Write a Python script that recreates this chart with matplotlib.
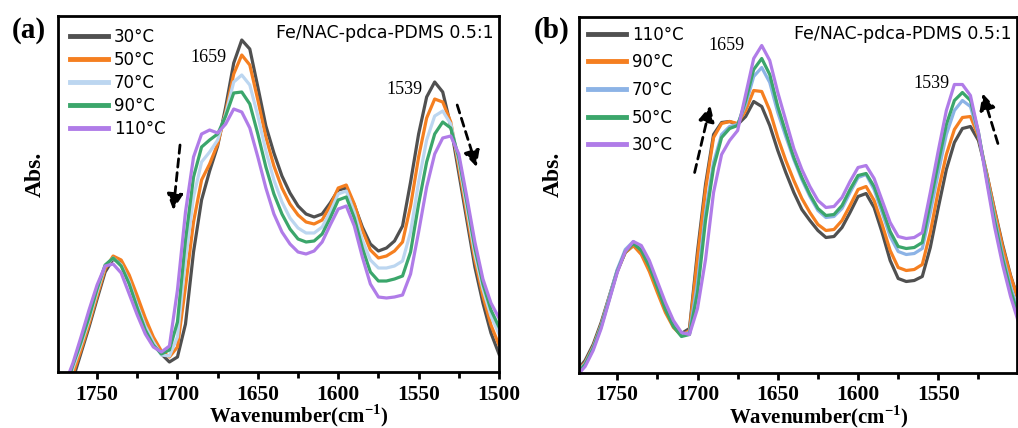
import matplotlib
matplotlib.use("Agg")
import matplotlib.pyplot as plt
from matplotlib.ticker import MultipleLocator

plt.rcParams['mathtext.fontset'] = 'custom'
plt.rcParams['mathtext.rm'] = 'Liberation Serif'
plt.rcParams['mathtext.bf'] = 'Liberation Serif:bold'

# FTIR spectra, wavenumber in cm-1, absorbance in arbitrary units
wavenumber = [1775, 1770, 1765, 1760, 1755, 1750, 1745, 1740, 1735, 1730,
              1725, 1720, 1715, 1710, 1705, 1700, 1695, 1690, 1685, 1680,
              1675, 1670, 1665, 1660, 1655, 1650, 1645, 1640, 1635, 1630,
              1625, 1620, 1615, 1610, 1605, 1600, 1595, 1590, 1585, 1580,
              1575, 1570, 1565, 1560, 1555, 1550, 1545, 1540, 1535, 1530,
              1525, 1520, 1515, 1510, 1505, 1500]

# (a) heating
a_30 = [-55, -32, -7, 19, 45, 73, 100, 113, 109, 93,
        72, 51, 32, 18, 10, 15, 48, 120, 172, 201,
        226, 265, 309, 332, 323, 285, 246, 219, 196, 179,
        166, 158, 155, 158, 169, 182, 184, 167, 145, 128,
        121, 124, 131, 146, 190, 238, 275, 290, 280, 246,
        199, 152, 105, 69, 39, 18]
a_50 = [-52, -28, -2, 22, 48, 76, 103, 116, 112, 97,
        76, 54, 35, 21, 15, 25, 85, 150, 192, 208,
        228, 260, 298, 317, 307, 272, 235, 206, 184, 168,
        157, 150, 148, 152, 166, 184, 187, 168, 142, 122,
        114, 116, 121, 130, 166, 215, 254, 273, 270, 250,
        205, 158, 112, 76, 47, 27]
a_70 = [-47, -22, 4, 27, 52, 80, 106, 114, 107, 90,
        67, 46, 30, 17, 16, 35, 112, 175, 210, 220,
        232, 258, 290, 297, 287, 256, 221, 192, 170, 154,
        144, 139, 139, 145, 160, 178, 181, 160, 132, 112,
        104, 104, 106, 111, 140, 190, 232, 256, 261, 248,
        210, 164, 118, 83, 56, 38]
a_90 = [-43, -18, 7, 30, 55, 83, 107, 114, 106, 88,
        64, 42, 27, 18, 22, 50, 132, 195, 225, 232,
        238, 256, 279, 280, 268, 238, 205, 178, 158, 143,
        133, 130, 131, 138, 154, 172, 175, 154, 124, 100,
        91, 91, 93, 96, 120, 168, 210, 238, 250, 244,
        214, 170, 124, 88, 62, 45]
a_110 = [-37, -12, 9, 35, 62, 87, 106, 108, 99, 78,
         57, 38, 25, 20, 26, 82, 160, 215, 238, 242,
         239, 248, 263, 260, 244, 215, 184, 158, 140, 128,
         120, 118, 121, 130, 147, 163, 166, 146, 115, 88,
         75, 74, 75, 77, 98, 140, 185, 218, 234, 236,
         218, 175, 130, 93, 69, 54]

# (b) cooling
b_110 = [2, 12, 28, 50, 76, 102, 120, 127, 120, 104,
         83, 64, 48, 39, 44, 121, 188, 238, 250, 251,
         248, 256, 271, 266, 247, 222, 200, 180, 163, 152,
         142, 135, 136, 145, 160, 176, 179, 165, 140, 112,
         94, 91, 92, 96, 125, 165, 203, 230, 244, 246,
         232, 200, 163, 128, 97, 72]
b_90 = [1, 10, 26, 48, 75, 101, 120, 127, 118, 101,
        80, 60, 45, 37, 42, 115, 183, 235, 249, 251,
        249, 262, 282, 281, 262, 235, 212, 192, 174, 160,
        148, 142, 143, 152, 167, 183, 186, 172, 148, 122,
        105, 102, 103, 108, 140, 182, 218, 243, 255, 256,
        236, 200, 162, 126, 96, 72]
b_70 = [0, 9, 25, 47, 75, 103, 123, 131, 124, 108,
        87, 66, 50, 38, 40, 90, 160, 210, 238, 246,
        248, 268, 296, 305, 290, 260, 236, 213, 193, 176,
        162, 155, 156, 164, 180, 195, 198, 183, 160, 136,
        121, 118, 119, 124, 160, 200, 238, 262, 272, 266,
        238, 197, 156, 118, 86, 60]
b_50 = [-1, 8, 24, 46, 73, 101, 121, 129, 122, 106,
        85, 63, 46, 36, 38, 80, 152, 205, 235, 244,
        247, 272, 303, 314, 298, 266, 240, 215, 195, 178,
        164, 157, 158, 167, 183, 197, 199, 186, 164, 141,
        126, 124, 125, 130, 170, 210, 248, 272, 280, 272,
        240, 195, 152, 114, 82, 56]
b_30 = [-3, 6, 22, 44, 72, 100, 121, 131, 127, 112,
        91, 70, 52, 40, 38, 64, 113, 180, 218, 232,
        242, 278, 314, 327, 312, 280, 252, 224, 203, 186,
        172, 165, 166, 175, 191, 205, 207, 194, 172, 150,
        136, 134, 135, 140, 180, 222, 262, 288, 288, 277,
        240, 192, 146, 108, 76, 50]

labels_a = ['30°C', '50°C', '70°C', '90°C', '110°C']
labels_b = ['110°C', '90°C', '70°C', '50°C', '30°C']
colors_a = ['#505050', '#f57f20', '#bcd6f0', '#3ba66b', '#b07ce8']
colors_b = ['#505050', '#f57f20', '#8cb3e6', '#3ba66b', '#b07ce8']

serif = 'Liberation Serif'
sans = 'DejaVu Sans'


def draw_panel(ax, series, labels, colors, xlim, major, spacing, legpad):
    for y, lab, c in zip(series, labels, colors):
        ax.plot(wavenumber, y, color=c, lw=2.3, label=lab, solid_joinstyle='round')
    ax.set_xlim(*xlim)
    ax.set_ylim(0, 356)
    ax.set_yticks([])
    ax.set_xticks(major)
    ax.xaxis.set_minor_locator(MultipleLocator(25))
    ax.tick_params(axis='x', which='major', direction='out', length=5, width=2, pad=4)
    ax.tick_params(axis='x', which='minor', direction='out', length=4, width=2)
    for lbl in ax.get_xticklabels():
        lbl.set_fontfamily(serif)
        lbl.set_fontweight('bold')
        lbl.set_fontsize(15.5)
    for sp in ax.spines.values():
        sp.set_linewidth(2)
    ax.set_xlabel(r'Wavenumber(cm$^{\mathbf{-1}}$)', fontfamily=serif,
                  fontweight='bold', fontsize=15, va='center')
    ax.set_ylabel('Abs.', fontfamily=serif, fontweight='bold', fontsize=17)
    leg = ax.legend(loc='upper left', frameon=False, prop={'family': sans, 'size': 12},
                    handlelength=2.3, handletextpad=0.35, labelspacing=spacing,
                    borderaxespad=legpad, borderpad=0.2)
    for h in leg.get_lines():
        h.set_linewidth(3.5)
    ax.text(0.988, 0.952, 'Fe/NAC-pdca-PDMS 0.5:1', transform=ax.transAxes,
            ha='right', va='center', fontfamily=sans, fontsize=12.5)


def dashed_arrow(ax, start, end):
    ax.annotate('', xy=end, xytext=start,
                arrowprops=dict(arrowstyle='-|>', linestyle=(0, (3, 2)), lw=2,
                                color='black', mutation_scale=24,
                                shrinkA=0, shrinkB=0))


fig = plt.figure(figsize=(10.18, 4.28), dpi=100)
ax_a = fig.add_axes([58 / 1018, 56 / 428, 441 / 1018, 356 / 428])
ax_b = fig.add_axes([578.7 / 1018, 55.5 / 428, 438.3 / 1018, 356 / 428])

draw_panel(ax_a, [a_30, a_50, a_70, a_90, a_110], labels_a, colors_a,
           (1774.3, 1500), [1750, 1700, 1650, 1600, 1550, 1500], 0.3, 0.5)
draw_panel(ax_b, [b_110, b_90, b_70, b_50, b_30], labels_b, colors_b,
           (1774, 1501), [1750, 1700, 1650, 1600, 1550], 0.58, 0.35)

ax_a.xaxis.set_label_coords(0.547, -0.123)
ax_b.xaxis.set_label_coords(0.548, -0.123)
ax_a.yaxis.set_label_coords(-0.028, 0.556)
ax_b.yaxis.set_label_coords(-0.034, 0.556)

# peak positions
ax_a.text(1680.4, 314, '1659', fontfamily=serif, fontsize=13, ha='center', va='center')
ax_a.text(1559.1, 282, '1539', fontfamily=serif, fontsize=13, ha='center', va='center')
ax_b.text(1682.2, 327, '1659', fontfamily=serif, fontsize=13, ha='center', va='center')
ax_b.text(1554.5, 289, '1539', fontfamily=serif, fontsize=13, ha='center', va='center')

dashed_arrow(ax_a, (1698.4, 227), (1702.6, 162))
dashed_arrow(ax_a, (1526, 267), (1513.9, 205))
dashed_arrow(ax_b, (1701.8, 200), (1692, 267))
dashed_arrow(ax_b, (1512.9, 229), (1522.4, 279))

fig.text(12 / 1018, 1 - 30 / 428, '(a)', fontfamily=serif, fontweight='bold',
         fontsize=21, va='center', ha='left')
fig.text(534 / 1018, 1 - 30 / 428, '(b)', fontfamily=serif, fontweight='bold',
         fontsize=21, va='center', ha='left')

fig.savefig('out.png', dpi=100)
